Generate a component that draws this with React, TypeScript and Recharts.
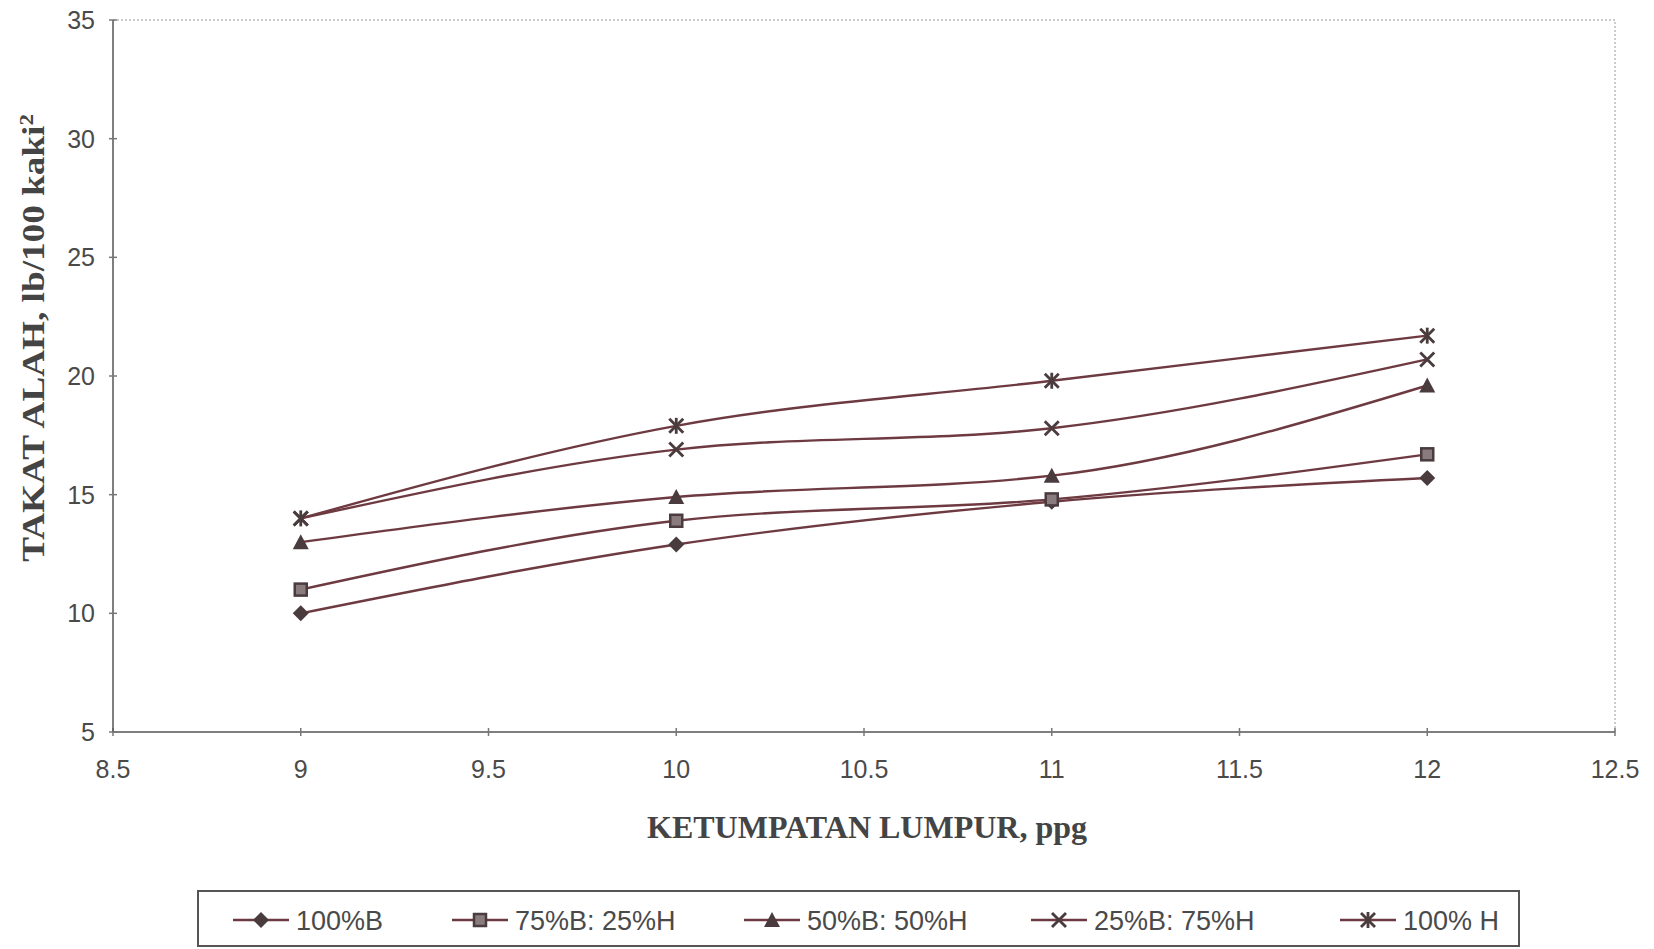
import React from "react";
import { LineChart, Line, XAxis, YAxis, ReferenceLine } from "recharts";

const densities = [9, 10, 11, 12];
const b100 = [10, 12.9, 14.7, 15.7];
const b75h25 = [11, 13.9, 14.8, 16.7];
const b50h50 = [13, 14.9, 15.8, 19.6];
const b25h75 = [14, 16.9, 17.8, 20.7];
const h100 = [14, 17.9, 19.8, 21.7];

const xTicks = [8.5, 9, 9.5, 10, 10.5, 11, 11.5, 12, 12.5];
const yTicks = [5, 10, 15, 20, 25, 30, 35];

const LINE = "#6e3a41";
const MARK = "#4a3c3e";
const TXT = "#4a4a4a";

const data = densities.map((d, i) => ({
  x: d, b100: b100[i], b75h25: b75h25[i], b50h50: b50h50[i], b25h75: b25h75[i], h100: h100[i],
}));

type Kind = "diamond" | "square" | "triangle" | "cross" | "star";

function Marker({ kind, cx, cy }: { kind: Kind; cx: number; cy: number }) {
  const s = 7;
  if (kind === "diamond")
    return <polygon points={`${cx},${cy - s - 1} ${cx + s + 1},${cy} ${cx},${cy + s + 1} ${cx - s - 1},${cy}`} fill={MARK} />;
  if (kind === "square")
    return <rect x={cx - s + 1} y={cy - s + 1} width={s * 2 - 2} height={s * 2 - 2} fill="#8a7c7e" stroke={MARK} strokeWidth={2.5} />;
  if (kind === "triangle")
    return <polygon points={`${cx},${cy - s - 1} ${cx + s + 1},${cy + s} ${cx - s - 1},${cy + s}`} fill={MARK} />;
  if (kind === "cross")
    return (
      <g stroke={MARK} strokeWidth={2.8}>
        <line x1={cx - s} y1={cy - s} x2={cx + s} y2={cy + s} />
        <line x1={cx - s} y1={cy + s} x2={cx + s} y2={cy - s} />
      </g>
    );
  return (
    <g stroke={MARK} strokeWidth={2.8}>
      <line x1={cx - s} y1={cy - s} x2={cx + s} y2={cy + s} />
      <line x1={cx - s} y1={cy + s} x2={cx + s} y2={cy - s} />
      <line x1={cx} y1={cy - s - 1} x2={cx} y2={cy + s + 1} />
    </g>
  );
}

const series: { key: string; name: string; kind: Kind; lx: number }[] = [
  { key: "b100", name: "100%B", kind: "diamond", lx: 261 },
  { key: "b75h25", name: "75%B: 25%H", kind: "square", lx: 480 },
  { key: "b50h50", name: "50%B: 50%H", kind: "triangle", lx: 772 },
  { key: "b25h75", name: "25%B: 75%H", kind: "cross", lx: 1059 },
  { key: "h100", name: "100% H", kind: "star", lx: 1368 },
];

const tickStyle = { fill: TXT, fontSize: 25, fontFamily: "Liberation Sans, Arial, sans-serif" };

export default function App() {
  return (
    <div style={{ position: "fixed", left: 0, top: 0, width: 1654, height: 949, background: "#fff" }}>
      <LineChart width={1654} height={949} data={data} margin={{ top: 20, right: 39, left: 33, bottom: 177 }}>
        <ReferenceLine y={35} stroke="#999" strokeDasharray="2 2" ifOverflow="visible" />
        <ReferenceLine x={12.5} stroke="#999" strokeDasharray="2 2" ifOverflow="visible" />
        <XAxis
          dataKey="x" type="number" domain={[8.5, 12.5]} ticks={xTicks} interval={0}
          tick={tickStyle} stroke="#555" strokeWidth={1.5} tickSize={8} tickMargin={20} height={40}
          tickLine={{ stroke: "#777", transform: "translate(0,-4)" }}
        />
        <YAxis
          type="number" domain={[5, 35]} ticks={yTicks} interval={0}
          tick={tickStyle} stroke="#555" strokeWidth={1.5} tickSize={8} tickMargin={10} width={80}
          tickLine={{ stroke: "#777", transform: "translate(4,0)" }}
        />
        {series.map((s) => (
          <Line
            key={s.key} dataKey={s.key} name={s.name} type="monotone" stroke={LINE} strokeWidth={2.4}
            isAnimationActive={false}
            dot={(p: any) => <Marker key={`${s.key}-${p.index}`} kind={s.kind} cx={p.cx} cy={p.cy} />}
            activeDot={false}
          />
        ))}
      </LineChart>

      <div style={{
        position: "absolute", left: 34, top: 338, transform: "translate(-50%,-50%) rotate(-90deg) scale(1.2,1)",
        whiteSpace: "nowrap", fontFamily: "Liberation Serif, Times New Roman, serif", fontWeight: "bold",
        fontSize: 31, color: "#444",
      }}>
        TAKAT ALAH, lb/100 kaki<sup style={{ fontSize: 19 }}>2</sup>
      </div>
      <div style={{
        position: "absolute", left: 867, top: 827, transform: "translate(-50%,-50%)",
        whiteSpace: "nowrap", fontFamily: "Liberation Serif, Times New Roman, serif", fontWeight: "bold",
        fontSize: 32, color: "#444",
      }}>
        KETUMPATAN LUMPUR, ppg
      </div>

      <div style={{
        position: "absolute", left: 197, top: 890, width: 1323, height: 57,
        border: "2px solid #555", boxSizing: "border-box",
      }}>
        <svg width={1323} height={57} style={{ position: "absolute", left: -2, top: -2 }}>
          {series.map((s) => {
            const cx = s.lx - 197;
            return (
              <g key={s.key}>
                <line x1={cx - 28} x2={cx + 28} y1={30} y2={30} stroke={LINE} strokeWidth={2.4} />
                <Marker kind={s.kind} cx={cx} cy={30} />
                <text x={cx + 35} y={40} fill={TXT} fontSize={27} fontFamily="Liberation Sans, Arial, sans-serif">{s.name}</text>
              </g>
            );
          })}
        </svg>
      </div>
    </div>
  );
}
